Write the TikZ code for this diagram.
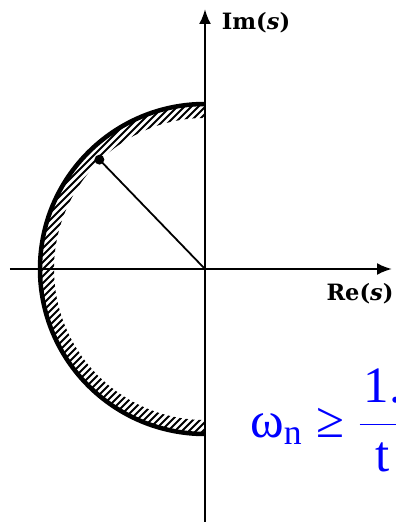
\RequirePackage{fix-cm}
\documentclass[tikz,border=0pt]{standalone}
\usepackage{amsmath}
\usepackage{fontspec}
\setmainfont{Liberation Serif}
\newfontfamily\axisfont{DejaVu Serif}
\usetikzlibrary{arrows.meta}
\tikzset{
  axis/.style    = {-{Latex[length=15pt,width=12pt]}, line width=2.4pt},
  rim/.style     = {line width=4.5pt},
  hatchline/.style = {line width=2pt},
  ray/.style     = {line width=1.8pt},
  dot/.style     = {circle, fill=black, inner sep=3.5pt},
  axlabel/.style = {font=\axisfont\bfseries\fontsize{22.5}{26}\selectfont, inner sep=0pt},
  formula/.style = {text=blue, font=\fontsize{51}{60}\selectfont, inner sep=0pt},
}
\begin{document}
\begin{tikzpicture}[x=1pt,y=1pt]
  \useasboundingbox (-205,-253) rectangle (191,269);
  \clip (-205,-253) rectangle (191,269);
  \coordinate (O) at (0,0);
  % hatched band inside the rim
  \begin{scope}
    \clip (90:165) arc (90:270:165) -- (270:151) arc (270:90:151) -- cycle;
    \foreach \k in {-400,-393,...,400}
      \draw[hatchline] (\k-200,-200) -- (\k+200,200);
  \end{scope}
  \draw[rim] (90:165) arc (90:270:165);
  % axes
  \coordinate (xl) at (-195,0);
  \coordinate (xr) at (187,0);
  \coordinate (yb) at (0,-253);
  \coordinate (yt) at (0,260);
  \draw[axis] (xl) -- (xr);
  \draw[axis] (yb) -- (yt);
  \node[axlabel] (imlbl) at (51,246) {Im(\textit{s})};
  \node[axlabel] (relbl) at (155,-25) {Re(\textit{s})};
  % radius to the band
  \node[dot] (tip) at (134:152) {};
  \draw[ray] (O) -- (tip.center);
  % bound on the natural frequency
  \node[formula, anchor=base west] (bound) at (45,-168)
    {$\text{ω}_{\text{n}}\mathrel{\text{≥}}\dfrac{\makebox[46pt]{1.}}{\text{t}}$};
\end{tikzpicture}
\end{document}
